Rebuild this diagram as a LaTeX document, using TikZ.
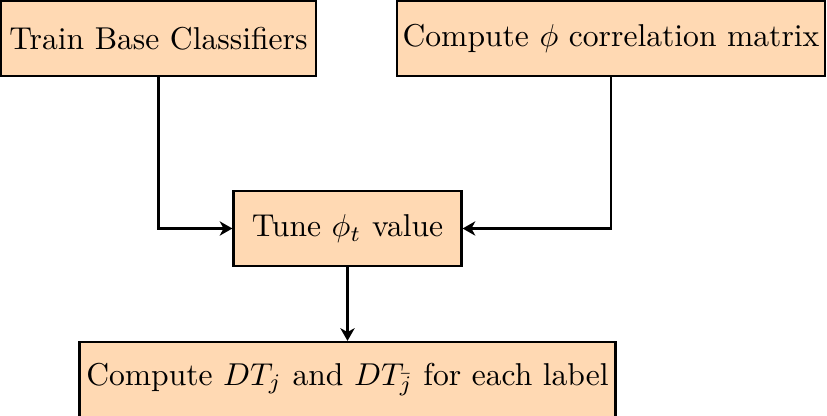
\documentclass[tikz,border=0pt]{standalone}
\usetikzlibrary{arrows.meta}
\definecolor{boxfill}{RGB}{255,217,179}
\begin{document}
\begin{tikzpicture}[x=0.3164pt, y=-0.3164pt,
  procbox/.style={draw=black, line width=0.7pt, fill=boxfill, inner sep=0pt,
    minimum height=75*0.3164pt, anchor=center},
  flow/.style={draw=black, line width=0.7pt, -{Stealth[length=4pt,width=4.5pt,inset=1.2pt]}}]
  \useasboundingbox (0,0) rectangle (827,416);
  % processing steps
  \node[procbox, minimum width=315*0.3164pt] (train) at (158.5,38.5) {Train Base Classifiers};
  \node[procbox, minimum width=428*0.3164pt] (corr) at (611,38.5) {Compute $\phi$ correlation matrix};
  \node[procbox, minimum width=228*0.3164pt] (tune) at (347.5,228.5) {Tune $\phi_t$ value};
  \node[procbox, minimum width=536*0.3164pt] (dt) at (347.5,379.5) {Compute $DT_j$ and $DT_{\bar{j}}$ for each label};
  % connectors
  \draw[flow] (train.south) |- (tune.west);
  \draw[flow] (corr.south) |- (tune.east);
  \draw[flow] (tune.south) -- (dt.north);
\end{tikzpicture}
\end{document}
